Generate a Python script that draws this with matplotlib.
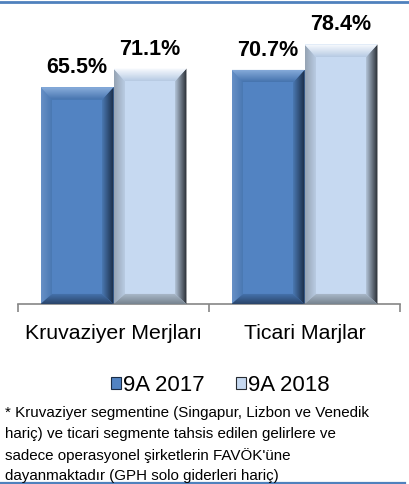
import matplotlib
matplotlib.use("Agg")
import matplotlib.pyplot as plt
import numpy as np
from matplotlib.colors import LinearSegmentedColormap
from matplotlib.patches import Patch, Polygon
from matplotlib.lines import Line2D

plt.rcParams["font.family"] = ["Liberation Sans", "DejaVu Sans"]

categories = ["Kruvaziyer Merjları", "Ticari Marjlar"]
series = ["9A 2017", "9A 2018"]
values_2017 = [65.5, 70.7]
values_2018 = [71.1, 78.4]
footnote = ("* Kruvaziyer segmentine (Singapur, Lizbon ve Venedik\n"
            "hariç) ve ticari segmente tahsis edilen gelirlere ve\n"
            "sadece operasyonel şirketlerin FAVÖK'üne\n"
            "dayanmaktadır (GPH solo giderleri hariç)")

colors = ["#5283c2", "#c6d9f1"]
# bevel shades as (outer edge, inner edge)
top_c = [("#8aaedc", "#4573ae"), ("#fafcff", "#b6cae3")]
right_c = [("#1a2c45", "#4a78b2"), ("#262b31", "#b3c4d8")]
left_c = [("#6790c6", "#4776b1"), ("#95a3b3", "#bccfe7")]
bottom_c = [("#2a446a", "#4776b1"), ("#76838f", "#adbccd")]

W, H = 410, 485
fig = plt.figure(figsize=(W / 100, H / 100), dpi=100)
ax = fig.add_axes([18 / W, 180 / H, 382 / W, 298 / H])

width = 0.382
x = list(range(len(categories)))
bx = 0.06    # bevel horizontal in data units
by = 3.8     # bevel vertical in data units


def grad(ax, pts, c_out, c_in, horizontal, reverse):
    xs = [p[0] for p in pts]
    ys = [p[1] for p in pts]
    cs = [c_in, c_out] if reverse else [c_out, c_in]
    cmap = LinearSegmentedColormap.from_list("g", cs)
    g = np.linspace(0, 1, 64)
    img = g[None, :] if horizontal else g[:, None]
    poly = Polygon(pts, closed=True, fc="none", ec="none")
    ax.add_patch(poly)
    im = ax.imshow(img, cmap=cmap, extent=[min(xs), max(xs), min(ys), max(ys)],
                   origin="lower", aspect="auto", zorder=3, interpolation="bilinear")
    im.set_clip_path(poly)


def bevel(ax, xc, h, i):
    x0, x1 = xc - width / 2, xc + width / 2
    b = by * 0.8
    grad(ax, [(x0, 0), (x0, h), (x0 + bx, h - by), (x0 + bx, b)],
         *left_c[i], True, False)
    grad(ax, [(x1, h), (x1, 0), (x1 - bx, b), (x1 - bx, h - by)],
         *right_c[i], True, True)
    grad(ax, [(x0, h), (x1, h), (x1 - bx, h - by), (x0 + bx, h - by)],
         *top_c[i], False, True)
    grad(ax, [(x0, 0), (x1, 0), (x1 - bx, b), (x0 + bx, b)],
         *bottom_c[i], False, False)


for i, vals in enumerate([values_2017, values_2018]):
    offs = (i - 0.5) * width
    for xi, v in zip(x, vals):
        ax.bar(xi + offs, v, width=width, color=colors[i], zorder=2)
        bevel(ax, xi + offs, v, i)
        ax.text(xi + offs, v + 3, f"{v:.1f}%", ha="center", va="bottom",
                fontsize=15.5, fontweight="bold", color="#000000")

ax.set_xlim(-0.5, 1.5)
ax.set_ylim(0, 90)
for s in ["top", "left", "right"]:
    ax.spines[s].set_visible(False)
ax.spines["bottom"].set_color("#868686")
ax.spines["bottom"].set_linewidth(1.2)
ax.set_yticks([])
ax.set_xticks(x)
ax.set_xticklabels(categories, fontsize=15.3)
ax.tick_params(axis="x", which="major", length=0, pad=14)
ax.set_xticks([-0.5, 0.5, 1.5], minor=True)
ax.tick_params(axis="x", which="minor", length=6, width=1.2, color="#868686",
               direction="out")

handles = [Patch(facecolor=colors[i], edgecolor=right_c[i][0], linewidth=0.8, label=series[i])
           for i in range(2)]
fig.legend(handles=handles, loc="center", bbox_to_anchor=(220 / W, 1 - 386 / H),
           ncol=2, frameon=False, fontsize=16, handlelength=0.45, handleheight=0.45,
           handletextpad=0.1, columnspacing=1.4)

fig.text(5 / W, 1 - 406 / H, footnote, ha="left", va="top", fontsize=10.9,
         linespacing=1.6, color="#000000")

fig.add_artist(Line2D([0, 1], [1 - 3 / H, 1 - 3 / H], transform=fig.transFigure,
                      color="#4f81bd", lw=2))
fig.add_artist(Line2D([0, 405 / W], [1 - 483.5 / H, 1 - 483.5 / H], transform=fig.transFigure,
                      color="#4f81bd", lw=1.6))

fig.savefig("out.png", dpi=100)
